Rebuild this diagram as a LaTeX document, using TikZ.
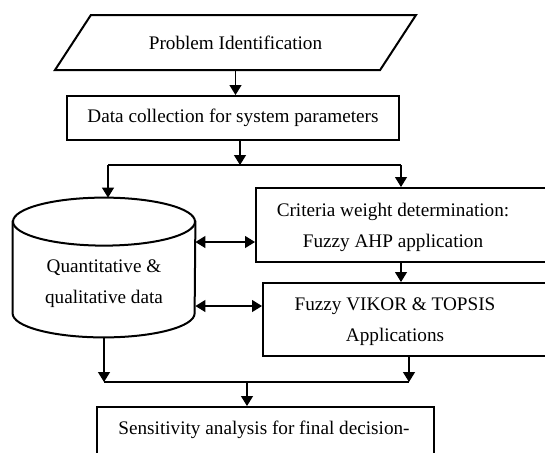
\documentclass[tikz,border=0pt]{standalone}
\usepackage{fontspec}
\setmainfont{Liberation Serif}
\usetikzlibrary{shapes.geometric,arrows.meta}
\begin{document}
\begin{tikzpicture}[x=0.5pt,y=-0.5pt,
    box/.style={draw,line width=1pt,rectangle},
    txt/.style={align=center,font=\fontsize{9.6}{15.5}\selectfont},
    link/.style={line width=0.6pt,-{Triangle[length=5pt,width=6pt]}},
    both/.style={line width=0.6pt,{Triangle[length=5pt,width=6pt]}-{Triangle[length=5pt,width=6pt]}}]
  \useasboundingbox (0,0) rectangle (545,452);
  \clip (0,0) rectangle (545,452);
  \node[draw,line width=1pt,trapezium,trapezium left angle=37,trapezium right angle=143,
    trapezium stretches body,minimum width=180.5pt,minimum height=27.5pt,txt] (prob) at (235.5,42.5) {Problem Identification};
  \node[box,minimum width=166pt,minimum height=22pt,txt] (data) at (233,118) {Data collection for system parameters};
  % data store
  \node[inner sep=0,minimum width=91pt,minimum height=69.5pt] (db) at (104,267.5) {};
  \draw[line width=1pt] ([yshift=12pt]db.south west) arc[start angle=180,end angle=360,x radius=45.5pt,y radius=12pt]
    -- ([yshift=-12pt]db.north east) -- ([yshift=-12pt]db.north west) -- cycle;
  \draw[line width=1pt,fill=white] ([yshift=-12pt]db.north) ellipse [x radius=45.5pt,y radius=12pt];
  \node[txt] (dbText) at (104,284) {Quantitative \&\\qualitative data};
  \node[box,minimum width=150pt,minimum height=37pt] (crit) at (406,225) {};
  \node[txt] (critText) at (393,227.5) {Criteria weight determination:\\Fuzzy AHP application};
  \node[box,minimum width=150pt,minimum height=36.5pt] (vikor) at (413,319.5) {};
  \node[txt] (vikorText) at (395,322) {Fuzzy VIKOR \& TOPSIS\\Applications};
  \node[box,minimum width=168.5pt,minimum height=40pt] (final) at (265.5,447) {};
  \node[txt] (finalText) at (264,430) {Sensitivity analysis for final decision-};
  % split and join points
  \coordinate (split) at (240,165);
  \coordinate (splitL) at (108,165);
  \coordinate (splitR) at (401,165);
  \coordinate (join) at (247,382);
  \coordinate (joinL) at (104,382);
  \coordinate (joinR) at (409,382);
  \draw[link] (prob.south -| prob.center) -- (data.north -| prob.center);
  \draw[link] (data.south -| split) -- (split);
  \draw[line width=0.6pt] (splitL) -- (splitR);
  \draw[link] (splitL) -- (db.north -| splitL);
  \draw[link] (splitR) -- (crit.north -| splitR);
  \draw[both] (db.east |- 0,242) -- (crit.west |- 0,242);
  \draw[both] (db.east |- 0,306) -- (vikor.west |- 0,306);
  \draw[link] (crit.south -| splitR) -- (vikor.north -| splitR);
  \draw[link] (db.south -| joinL) -- (joinL);
  \draw[link] (vikor.south -| joinR) -- (joinR);
  \draw[line width=0.6pt] (joinL) -- (joinR);
  \draw[link] (join) -- (final.north -| join);
\end{tikzpicture}
\end{document}
